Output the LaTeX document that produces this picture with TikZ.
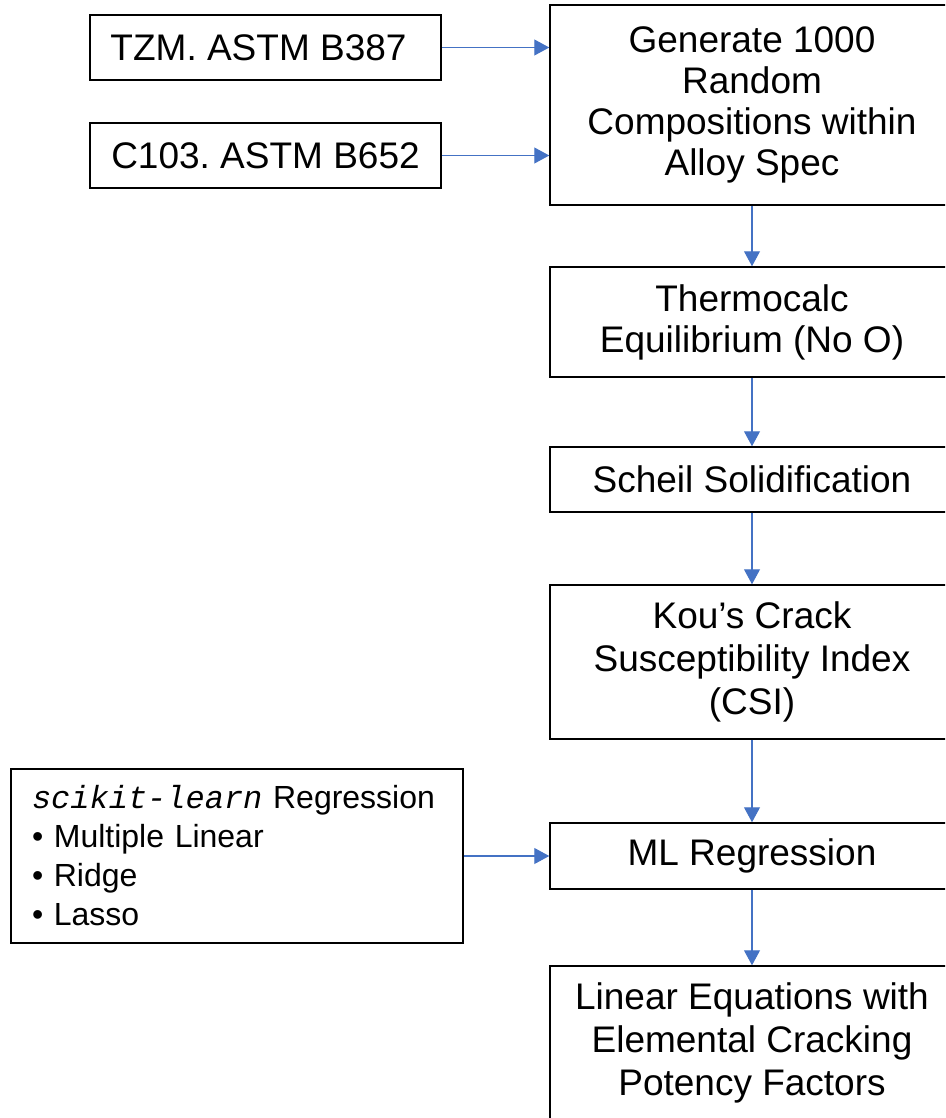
\documentclass[tikz,border=0pt]{standalone}
\usepackage{fontspec}
\setmainfont{Liberation Sans}
\setmonofont{Liberation Mono}
\usetikzlibrary{arrows.meta}
\definecolor{arrowblue}{RGB}{68,114,196}
\frenchspacing
\begin{document}
\begin{tikzpicture}[x=1pt,y=-1pt,
  box/.style={draw=black,line width=1.5pt,align=center,inner sep=0pt,
    font=\fontsize{37}{41}\selectfont},
  mainbox/.style={box,minimum width=404pt},
  srcbox/.style={box,minimum width=351pt,minimum height=65pt},
  flow/.style={draw=arrowblue,line width=1.1pt,-{Triangle[width=16pt,length=15pt]}}]
\useasboundingbox (0,0) rectangle (945,1118);
\clip (0,0) rectangle (945,1118);
\fill[white] (0,0) rectangle (945,1118);
% source boxes
\node[srcbox] (tzm) at (265.5,47.5) {TZM. ASTM B387\hspace*{14pt}};
\node[srcbox] (c103) at (265.5,155.5) {C103. ASTM B652};
% main column
\node[mainbox,minimum height=200pt] (gen) at (752,105) {Generate 1000\\Random\\Compositions within\\Alloy Spec};
\node[mainbox,minimum height=110pt] (thermo) at (752,322) {Thermocalc\\Equilibrium (No O)};
\node[mainbox,minimum height=65pt] (scheil) at (752,479.5) {Scheil Solidification};
\node[mainbox,minimum height=154pt,font=\fontsize{37}{43}\selectfont] (kou) at (752,662) {Kou’s Crack\\Susceptibility Index\\(CSI)};
\node[mainbox,minimum height=66pt] (ml) at (752,856) {ML Regression};
\node[mainbox,minimum height=154pt,font=\fontsize{37}{43}\selectfont] (lin) at (752,1043) {Linear Equations with\\Elemental Cracking\\Potency Factors};
% scikit box
\node[draw=black,line width=1.5pt,align=left,text width=410pt,inner xsep=21pt,inner ysep=0pt,
  minimum height=174pt,font=\fontsize{32}{39}\selectfont] (sk) at (237,856)
  {{\ttfamily\itshape scikit-learn} Regression\\• Multiple Linear\\• Ridge\\• Lasso};
% connectors
\draw[flow] (tzm.east) -- (tzm.east -| gen.west);
\draw[flow] (c103.east) -- (c103.east -| gen.west);
\draw[flow] (gen.south) -- (thermo.north);
\draw[flow] (thermo.south) -- (scheil.north);
\draw[flow] (scheil.south) -- (kou.north);
\draw[flow] (kou.south) -- (ml.north);
\draw[flow] (sk.east) -- (sk.east -| ml.west);
\draw[flow] (ml.south) -- (lin.north);
\end{tikzpicture}
\end{document}
